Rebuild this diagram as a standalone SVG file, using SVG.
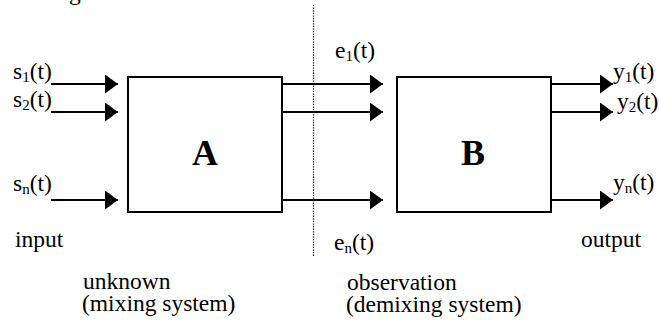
<svg xmlns="http://www.w3.org/2000/svg" width="659" height="324" viewBox="0 0 659 324">
  <defs>
    <marker id="arrow" markerUnits="userSpaceOnUse" markerWidth="13" markerHeight="19" refX="13" refY="9.5" orient="auto">
      <path d="M0,0 L13,9.5 L0,19 Z" fill="#000"/>
    </marker>
  </defs>
  <style>
    .t { font-family: 'Liberation Serif', 'DejaVu Serif', 'Times New Roman', serif; font-size: 23.5px; fill: #000; }
    .big { font-size: 36px; font-weight: bold; }
    .box { fill: none; stroke: #000; stroke-width: 2; }
    .conn { stroke: #000; stroke-width: 2; fill: none; marker-end: url(#arrow); }
    .div { stroke: #000; stroke-width: 1.2; stroke-dasharray: 1.3 1.3; }
    .sub { font-size: 15px; }
  </style>
  <rect width="659" height="324" fill="#fff"/>

  <text class="t" font-family="Liberation Serif, serif" x="69" y="0">g</text>

  <line class="div" x1="313.5" y1="5" x2="313.5" y2="256"/>

  <g id="connectors">
    <line class="conn" x1="51" y1="84" x2="118" y2="84"/>
    <line class="conn" x1="51" y1="112" x2="118" y2="112"/>
    <line class="conn" x1="51" y1="200" x2="118" y2="200"/>
    <line class="conn" x1="282" y1="84" x2="383" y2="84"/>
    <line class="conn" x1="282" y1="112" x2="383" y2="112"/>
    <line class="conn" x1="282" y1="200" x2="383" y2="200"/>
    <line class="conn" x1="551" y1="84" x2="613" y2="84"/>
    <line class="conn" x1="551" y1="112" x2="613" y2="112"/>
    <line class="conn" x1="551" y1="200" x2="613" y2="200"/>
  </g>

  <g id="nodeA">
    <rect class="box" x="128" y="77" width="154" height="135"/>
    <text class="t big" font-family="Liberation Serif, serif" x="205" y="165" text-anchor="middle">A</text>
  </g>
  <g id="nodeB">
    <rect class="box" x="397" y="77" width="154" height="135"/>
    <text class="t big" font-family="Liberation Serif, serif" x="473" y="165" text-anchor="middle">B</text>
  </g>

  <g id="labels" font-family="Liberation Serif, serif">
    <text class="t" x="13" y="79">s<tspan class="sub" dy="3">1</tspan><tspan dy="-3">(t)</tspan></text>
    <text class="t" x="13" y="107">s<tspan class="sub" dy="3">2</tspan><tspan dy="-3">(t)</tspan></text>
    <text class="t" x="13" y="191">s<tspan class="sub" dy="3">n</tspan><tspan dy="-3">(t)</tspan></text>
    <text class="t" x="335" y="58">e<tspan class="sub" dy="3">1</tspan><tspan dy="-3">(t)</tspan></text>
    <text class="t" x="334" y="250">e<tspan class="sub" dy="3">n</tspan><tspan dy="-3">(t)</tspan></text>
    <text class="t" x="613" y="79">y<tspan class="sub" dy="3">1</tspan><tspan dy="-3">(t)</tspan></text>
    <text class="t" x="617" y="109">y<tspan class="sub" dy="3">2</tspan><tspan dy="-3">(t)</tspan></text>
    <text class="t" x="613" y="190">y<tspan class="sub" dy="3">n</tspan><tspan dy="-3">(t)</tspan></text>
    <text class="t" x="15" y="247">input</text>
    <text class="t" x="581" y="247">output</text>
    <text class="t" x="83" y="289">unknown</text>
    <text class="t" x="82" y="311">(mixing system)</text>
    <text class="t" x="347" y="290">observation</text>
    <text class="t" x="346" y="312">(demixing system)</text>
  </g>
</svg>
